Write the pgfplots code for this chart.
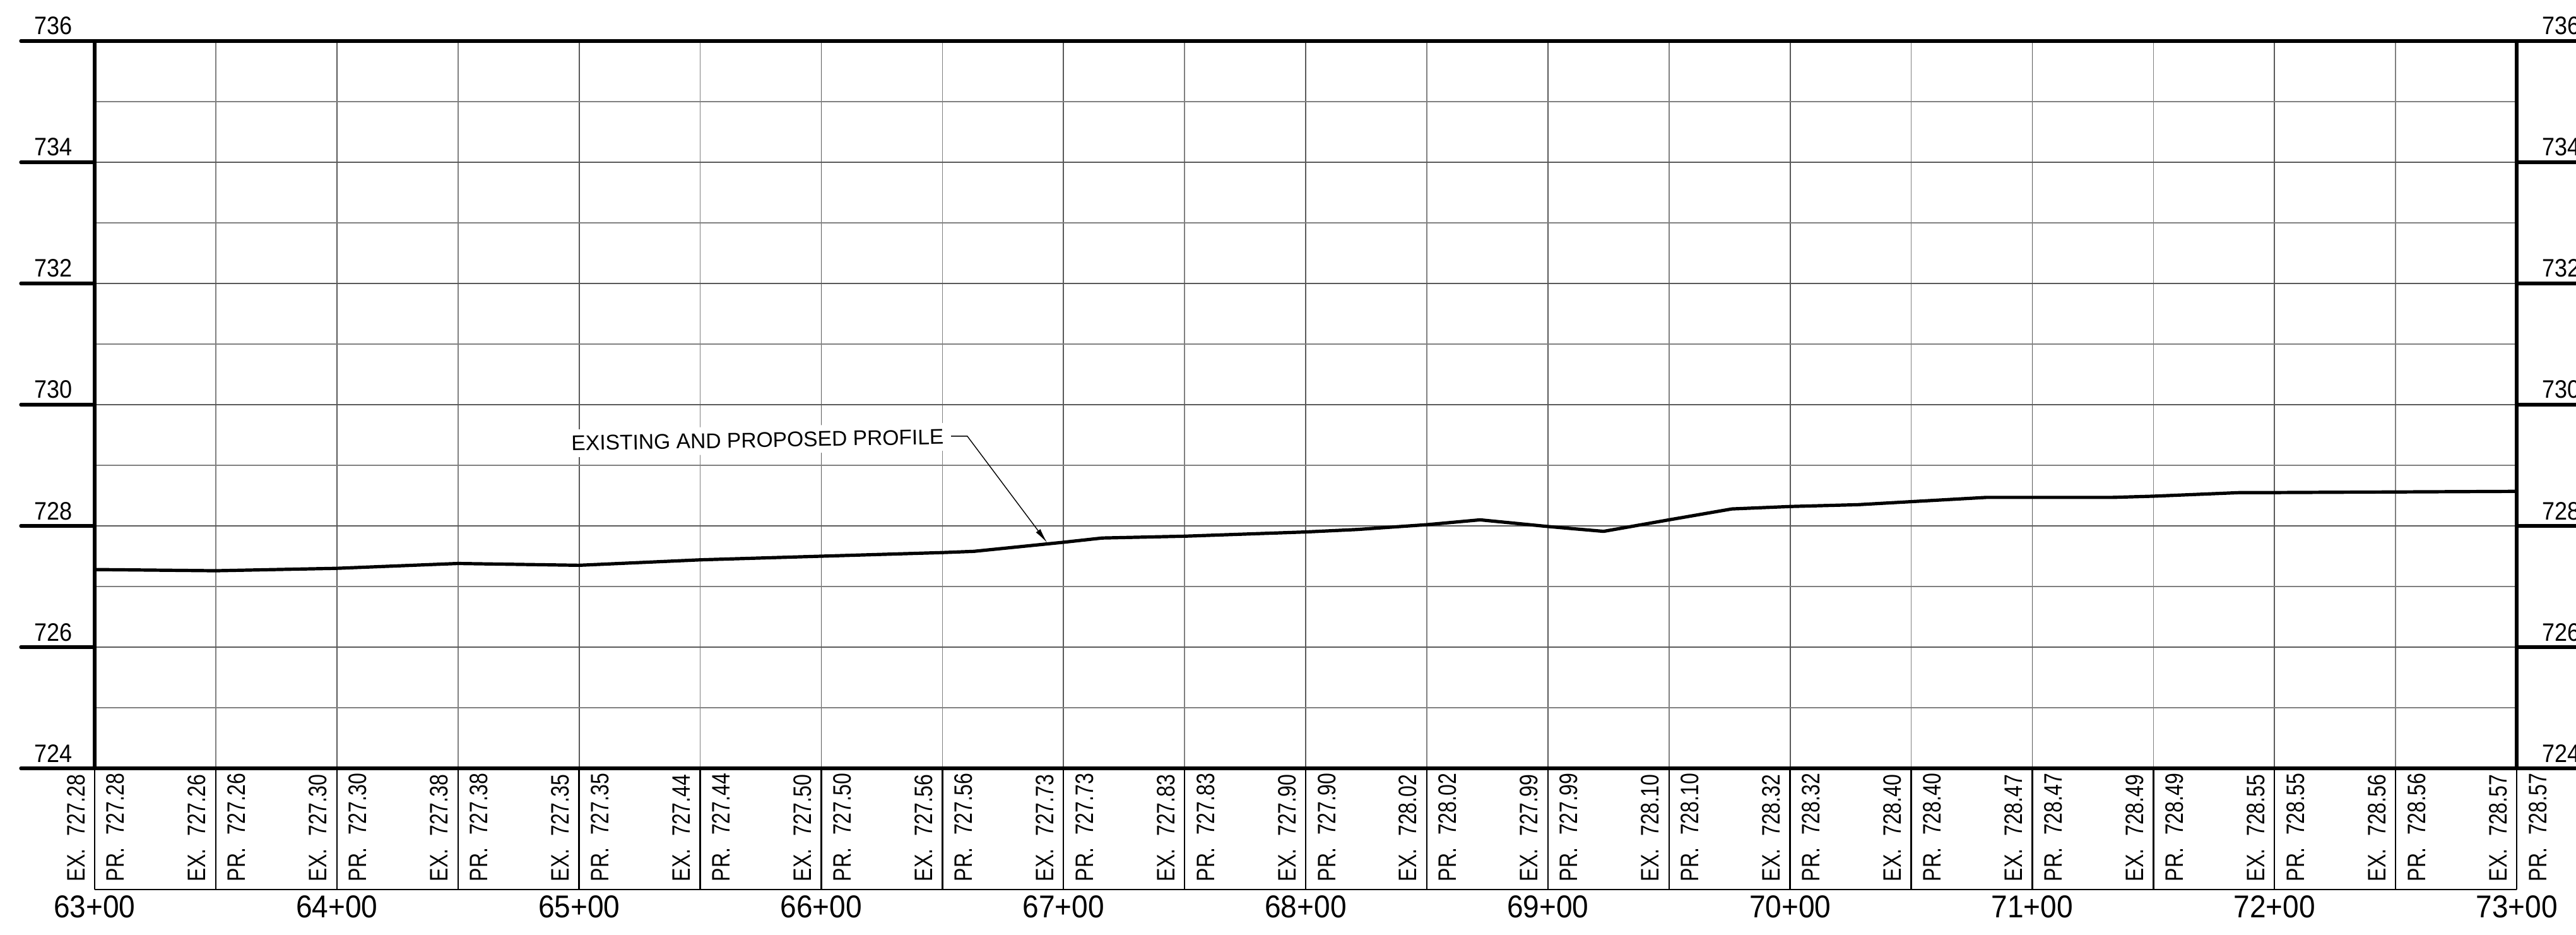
\documentclass[border=0pt]{standalone}
\usepackage{fontspec}
\setmainfont{Liberation Sans}
\newfontfamily\cadfont[FakeStretch=0.8]{Liberation Sans}
\newfontfamily\elevfont[FakeStretch=0.9]{Liberation Sans}
\newfontfamily\stafont[FakeStretch=0.92]{Liberation Sans}
\usepackage{pgfplots}
\pgfplotsset{compat=1.18}
\usetikzlibrary{arrows.meta}
\newcommand\bandlabel[2]{#1.\hspace{0.5em}#2}
\tikzset{
  bandtxt/.style={font=\cadfont\fontsize{10pt}{12pt}\selectfont, rotate=90, inner sep=0pt, anchor=base west},
  ylab/.style={font=\elevfont\fontsize{10pt}{12pt}\selectfont, inner sep=0pt},
  stalab/.style={font=\stafont\fontsize{12.5pt}{14pt}\selectfont, inner sep=0pt, anchor=base},
}
\begin{document}
\begin{tikzpicture}
\begin{axis}[
  at={(37.5pt,65.75pt)}, anchor=south west,
  scale only axis, width=959.5pt, height=288pt,
  xmin=6300, xmax=7300, ymin=724, ymax=736,
  xtick={6300,6400,...,7300}, minor xtick={6350,6450,...,7250},
  ytick={724,726,...,736}, minor ytick={725,727,...,735},
  xticklabels={}, yticklabels={},
  major tick length=0pt, minor tick length=0pt,
  grid=both,
  major grid style={draw=black!65, line width=0.45pt},
  minor grid style={draw=black!50, line width=0.4pt},
  axis line style={line width=1.3pt},
  clip=false,
]
% profile (existing = proposed)
\addplot[black, line width=1.3pt, line join=round] coordinates {
(6300,727.28) (6350,727.26) (6400,727.30) (6450,727.38) (6500,727.35)
(6550,727.44) (6600,727.50) (6650,727.56) (6663,727.58) (6700,727.73)
(6716,727.80) (6750,727.83) (6800,727.90) (6821,727.94) (6850,728.02)
(6872,728.10) (6900,727.99) (6923,727.91) (6950,728.10) (6976,728.28)
(7000,728.32) (7028,728.35) (7050,728.40) (7081,728.47) (7100,728.47)
(7133,728.47) (7150,728.49) (7186,728.55) (7200,728.55) (7250,728.56)
(7300,728.57)};

% elevation labels with tick bars
\pgfplotsinvokeforeach{724,726,728,730,732,734,736}{
  \draw[line width=1.3pt, line cap=round] (axis cs:6269.5,#1) -- (axis cs:6300,#1);
  \draw[line width=1.3pt] (axis cs:7300,#1) -- (axis cs:7335,#1);
  \node[ylab, anchor=base] at ([yshift=2.5pt]axis cs:6283,#1) {#1};
  \node[ylab, anchor=base west] at ([yshift=2.5pt]axis cs:7310.4,#1) {#1};
}

% band frame
\pgfplotsinvokeforeach{6300,6350,6400,6450,6500,6550,6600,6650,6700,6750,6800,6850,6900,6950,7000,7050,7100,7150,7200,7250,7300}{
  \draw[line width=0.6pt] (axis cs:#1,724) -- (axis cs:#1,722);
}
\draw[line width=0.65pt] (axis cs:6300,722) -- (axis cs:7300,722);

% band labels
\foreach \s/\v in {6300/727.28,6350/727.26,6400/727.30,6450/727.38,6500/727.35,6550/727.44,6600/727.50,6650/727.56,6700/727.73,6750/727.83,6800/727.90,6850/728.02,6900/727.99,6950/728.10,7000/728.32,7050/728.40,7100/728.47,7150/728.49,7200/728.55,7250/728.56,7300/728.57}{
  \edef\tmp{\noexpand\node[bandtxt] at ([xshift=-4pt]axis cs:\s,722.125) {\noexpand\bandlabel{EX}{\v}};
    \noexpand\node[bandtxt] at ([xshift=11.75pt]axis cs:\s,722.125) {\noexpand\bandlabel{PR}{\v}};}
  \tmp
}

% station labels
\pgfplotsinvokeforeach{63,64,65,66,67,68,69,70,71,72,73}{
  \node[stalab] at (axis cs:#100,721.54) {#1+00};
}

% annotation
\node[anchor=base west, rotate=1, fill=white, inner sep=2.5pt, font=\fontsize{8.4pt}{10pt}\selectfont]
  at ([xshift=-2.5pt]axis cs:6496.7,729.24) {EXISTING AND PROPOSED PROFILE};
\draw[line width=0.35pt, -{Latex[length=6pt,width=2.2pt]}]
  (axis cs:6653.6,729.48) -- (axis cs:6660.3,729.48) -- (axis cs:6693.3,727.72);
\end{axis}
\pgfresetboundingbox
\useasboundingbox (0,0) rectangle (1020.5pt,370pt);
\end{tikzpicture}
\end{document}
